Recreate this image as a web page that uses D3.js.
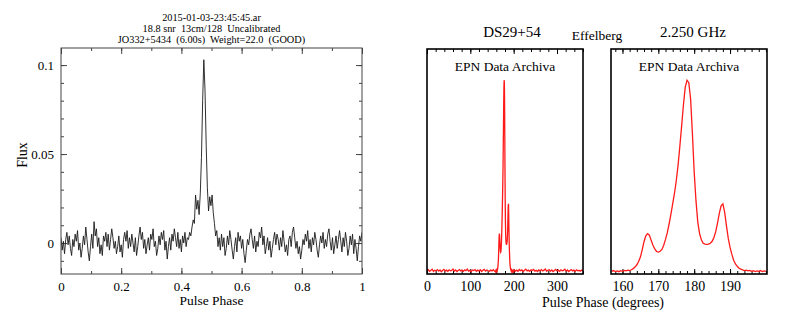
<!DOCTYPE html>
<html>
<head>
<meta charset="utf-8">
<script src="https://cdn.jsdelivr.net/npm/d3@7"></script>
<style>
  body { margin: 0; background: #fff; }
  text { font-family: "Liberation Serif", "Times New Roman", serif; fill: #000; }
</style>
</head>
<body>
<div id="chart-area"></div>
<script>
/*
*    pulse profile plots
*/
var width = 793;
var height = 318;

// ---- data ----
var titleLines = ["2015-01-03-23:45:45.ar", "18.8 snr  13cm/128  Uncalibrated", "JO332+5434  (6.00s)  Weight=22.0  (GOOD)"];

// left panel: flux per phase bin (256 bins across 0..1)
var fluxNoiseA = [
  0.003,-0.004,0.001,-0.006,0.002,0.006,-0.001,0.004,-0.003,-0.007,
  0.002,-0.002,0.005,0.001,0.007,-0.004,0.000,-0.008,-0.003,0.004,
  -0.001,0.009,0.002,-0.005,-0.010,-0.002,0.005,-0.003,0.012,0.004,
  0.008,-0.002,0.003,-0.006,-0.001,-0.007,0.004,0.001,0.006,-0.002,
  0.005,-0.004,0.002,0.008,0.003,-0.003,0.001,-0.006,-0.002,0.004,
  -0.005,-0.001,-0.008,0.002,0.006,0.001,0.007,-0.003,0.003,-0.002,
  0.005,0.000,-0.005,0.003,-0.007,-0.002,0.004,0.009,0.002,0.006,
  -0.003,0.002,-0.006,-0.001,0.003,-0.004,0.005,0.002,0.008,-0.002,
  0.001,-0.007,-0.003,0.004,-0.001,0.006,0.002,0.007,-0.004,0.001,
  -0.009,-0.002,0.003,-0.004,0.005,0.001,0.008,0.003,-0.002,0.006,
  -0.003,0.002,-0.005,0.004,0.000,0.006,-0.002,0.003
];
var fluxPulse = [
  0.002,0.006,0.004,0.009,0.013,0.011,0.027,0.019,0.024,0.016,
  0.028,0.048,0.080,0.103,0.086,0.055,0.031,0.018,0.026,0.021,
  0.027,0.017,0.011,0.004,0.007,-0.002,0.003,-0.004
];
var fluxNoiseB = [
  0.005,-0.002,0.003,-0.007,-0.003,0.004,-0.001,0.007,0.002,-0.004,
  -0.009,-0.002,0.003,-0.005,0.006,0.001,0.004,-0.003,0.002,-0.006,
  -0.011,-0.004,0.002,-0.001,0.005,0.008,0.002,-0.003,0.004,-0.005,
  0.001,-0.002,0.006,0.003,0.009,-0.001,0.004,-0.006,-0.002,0.003,
  -0.004,0.001,-0.008,-0.003,0.002,0.006,-0.001,0.005,0.002,-0.004,
  0.003,-0.002,0.007,0.001,-0.005,-0.001,-0.007,0.002,0.004,-0.002,
  0.006,0.009,0.003,-0.003,0.001,-0.006,-0.002,-0.009,-0.004,0.002,
  -0.001,0.005,0.001,0.007,-0.003,0.002,-0.005,0.003,-0.001,0.006,
  0.002,-0.004,-0.008,-0.001,0.004,0.000,0.006,-0.003,0.002,-0.002,
  0.005,0.008,0.001,-0.004,0.003,-0.006,-0.001,0.004,-0.003,0.002,
  0.007,0.001,-0.005,0.003,-0.002,0.006,0.001,-0.007,-0.003,0.004,
  -0.001,0.005,-0.006,0.002,-0.003,-0.010,-0.002,0.004,0.001,0.006
];

// right panels: EPN profile (normalised), 0.5 deg steps from 157 to 200 deg
var profStart = 157, profStep = 0.5;
var profile = [
  0.004,0.008,0.003,0.006,0.002,0.007,0.004,0.009,0.006,0.010,
  0.008,0.012,0.018,0.026,0.038,0.055,0.078,0.115,0.158,0.188,
  0.200,0.192,0.165,0.140,0.120,0.107,0.104,0.108,0.118,0.140,
  0.170,0.205,0.250,0.300,0.355,0.410,0.475,0.555,0.655,0.760,
  0.870,0.960,0.998,0.985,0.900,0.720,0.520,0.370,0.260,0.200,
  0.168,0.150,0.145,0.144,0.145,0.150,0.160,0.180,0.210,0.255,
  0.305,0.345,0.355,0.310,0.240,0.175,0.128,0.092,0.062,0.042,
  0.030,0.020,0.015,0.011,0.008,0.010,0.006,0.009,0.004,0.007,
  0.003,0.006,0.004,0.008,0.003,0.006,0.004
];
// off-pulse baseline, 3 deg steps: 0..156 and 201..360
var baseLeftStart = 0, baseRightStart = 201, baseStep = 3;
var baseLeft = [
  0.006,0.012,0.004,0.009,0.015,0.003,0.010,0.007,0.013,0.005,
  0.011,0.002,0.008,0.014,0.006,0.010,0.004,0.012,0.007,0.009,
  0.016,0.005,0.011,0.003,0.008,0.013,0.006,0.010,0.004,0.012,
  0.007,0.015,0.005,0.009,0.002,0.011,0.008,0.013,0.004,0.010,
  0.006,0.012,0.003,0.009,0.014,0.005,0.011,0.007,0.004,0.010,
  0.006,0.012,0.005
];
var baseRight = [
  0.012,0.005,0.010,0.004,0.013,0.007,0.011,0.003,0.009,0.015,
  0.006,0.010,0.004,0.012,0.008,0.014,0.005,0.009,0.003,0.011,
  0.007,0.013,0.006,0.010,0.016,0.004,0.009,0.012,0.005,0.011,
  0.003,0.008,0.014,0.006,0.010,0.004,0.012,0.007,0.009,0.015,
  0.005,0.011,0.003,0.008,0.013,0.006,0.010,0.004,0.012,0.007,
  0.009,0.005,0.011,0.006
];

var leftTicksX = [0, 0.2, 0.4, 0.6, 0.8, 1];
var leftTicksY = [0, 0.05, 0.1];
var p1Ticks = [0, 100, 200, 300];
var p2Ticks = [160, 170, 180, 190];

// ---- build series ----
var flux = fluxNoiseA.concat(fluxPulse, fluxNoiseB);
var leftData = flux.map((v, i) => ({x: i / (flux.length - 1), y: v}));

var profData = profile.map((v, i) => ({x: profStart + i * profStep, y: v}));
var fullData = baseLeft.map((v, i) => ({x: baseLeftStart + i * baseStep, y: v}))
    .concat(profData)
    .concat(baseRight.map((v, i) => ({x: baseRightStart + i * baseStep, y: v})));

var svg = d3.select("#chart-area").append("svg")
    .attr("width", width)
    .attr("height", height);

var defs = svg.append("defs");

function panel(box, xDom, yDom, id) {
    var g = svg.append("g").attr("transform", "translate(" + box.x + "," + box.y + ")");
    var x = d3.scaleLinear().domain(xDom).range([0, box.w]);
    var y = d3.scaleLinear().domain(yDom).range([box.h, 0]);
    defs.append("clipPath").attr("id", id)
        .append("rect").attr("width", box.w).attr("height", box.h);
    return {g: g, x: x, y: y, box: box};
}

function ticks(p, axisFn, scale, values, size, translate, col) {
    p.g.append("g")
        .attr("transform", translate)
        .call(axisFn(scale).tickValues(values).tickSizeInner(-size).tickSizeOuter(0).tickFormat(""))
        .call(a => a.select(".domain").remove())
        .selectAll("line").attr("stroke", col);
}

// ---------- left panel ----------
var L = panel({x: 61, y: 48, w: 301, h: 226}, [0, 1], [-0.0174, 0.1096], "clipL");

var minorX = d3.range(0, 1.0001, 0.1);
var minorY = d3.range(-0.01, 0.1001, 0.01);
ticks(L, d3.axisBottom, L.x, minorX, 3, "translate(0," + L.box.h + ")", "#444");
ticks(L, d3.axisBottom, L.x, leftTicksX, 6, "translate(0," + L.box.h + ")", "#444");
ticks(L, d3.axisTop, L.x, minorX, 3, "translate(0,0)", "#444");
ticks(L, d3.axisTop, L.x, leftTicksX, 6, "translate(0,0)", "#444");
ticks(L, d3.axisLeft, L.y, minorY, 3, "translate(0,0)", "#444");
ticks(L, d3.axisLeft, L.y, leftTicksY, 6, "translate(0,0)", "#444");
ticks(L, d3.axisRight, L.y, minorY, 3, "translate(" + L.box.w + ",0)", "#444");
ticks(L, d3.axisRight, L.y, leftTicksY, 6, "translate(" + L.box.w + ",0)", "#444");

L.g.append("path")
    .datum(leftData)
    .attr("clip-path", "url(#clipL)")
    .attr("fill", "none")
    .attr("stroke", "#1a1a1a")
    .attr("stroke-width", 0.9)
    .attr("d", d3.line().x(d => L.x(d.x)).y(d => L.y(d.y)));

L.g.append("rect")
    .attr("width", L.box.w).attr("height", L.box.h)
    .attr("fill", "none").attr("stroke", "#444").attr("stroke-width", 1);

L.g.append("g")
    .attr("transform", "translate(0," + L.box.h + ")")
    .call(d3.axisBottom(L.x).tickValues(leftTicksX).tickSize(0).tickPadding(8)
        .tickFormat(d => d === 0 || d === 1 ? d3.format("d")(d) : d3.format(".1f")(d)))
    .call(a => a.select(".domain").remove())
    .selectAll("text").attr("font-size", "13px").attr("font-family", "Liberation Serif");

L.g.append("g")
    .call(d3.axisLeft(L.y).tickValues(leftTicksY).tickSize(0).tickPadding(7)
        .tickFormat(d => d === 0 ? "0" : String(d)))
    .call(a => a.select(".domain").remove())
    .selectAll("text").attr("font-size", "13px").attr("font-family", "Liberation Serif");

svg.append("text")
    .attr("x", L.box.x + L.box.w / 2)
    .attr("y", 305)
    .attr("text-anchor", "middle")
    .attr("font-size", "13.5px")
    .text("Pulse Phase");

svg.append("text")
    .attr("transform", "translate(27,155) rotate(-90)")
    .attr("text-anchor", "middle")
    .attr("font-size", "14px")
    .text("Flux");

svg.selectAll(".title-line")
    .data(titleLines)
    .enter().append("text")
    .attr("class", "title-line")
    .attr("x", L.box.x + L.box.w / 2)
    .attr("y", (d, i) => 20.5 + i * 11.3)
    .attr("text-anchor", "middle")
    .attr("font-size", "10.3px")
    .style("white-space", "pre")
    .text(d => d);

// ---------- right panels ----------
var yDomR = [-0.01, 1.16];
var P1 = panel({x: 427, y: 49, w: 156, h: 225}, [0, 360], yDomR, "clipP1");
var P2 = panel({x: 611, y: 49, w: 156, h: 225}, [156.8, 200.3], yDomR, "clipP2");

[[P1, d3.range(0, 361, 20), p1Ticks, fullData, "clipP1"], [P2, d3.range(158, 201, 2), p2Ticks, profData, "clipP2"]].forEach((item) => {
    var p = item[0];
    ticks(p, d3.axisBottom, p.x, item[1], 3, "translate(0," + p.box.h + ")", "#000");
    ticks(p, d3.axisBottom, p.x, item[2], 5, "translate(0," + p.box.h + ")", "#000");
    ticks(p, d3.axisTop, p.x, item[1], 3, "translate(0,0)", "#000");
    ticks(p, d3.axisTop, p.x, item[2], 5, "translate(0,0)", "#000");

    p.g.append("path")
        .datum(item[3])
        .attr("clip-path", "url(#" + item[4] + ")")
        .attr("fill", "none")
        .attr("stroke", "#ff1a1a")
        .attr("stroke-width", 1.3)
        .attr("d", d3.line().x(d => p.x(d.x)).y(d => p.y(d.y)));

    p.g.append("rect")
        .attr("width", p.box.w).attr("height", p.box.h)
        .attr("fill", "none").attr("stroke", "#000").attr("stroke-width", 1.6);

    p.g.append("g")
        .attr("transform", "translate(0," + p.box.h + ")")
        .call(d3.axisBottom(p.x).tickValues(item[2]).tickSize(0).tickPadding(7).tickFormat(d3.format("d")))
        .call(a => a.select(".domain").remove())
        .selectAll("text").attr("font-size", "14px").attr("font-family", "Liberation Serif");

    p.g.append("text")
        .attr("x", p.box.w / 2)
        .attr("y", 22)
        .attr("text-anchor", "middle")
        .attr("font-size", "13.5px")
        .text("EPN Data Archiva");
});

svg.append("text")
    .attr("x", 512).attr("y", 37)
    .attr("text-anchor", "middle")
    .attr("font-size", "15px")
    .text("DS29+54");

svg.append("text")
    .attr("x", 597).attr("y", 40)
    .attr("text-anchor", "middle")
    .attr("font-size", "13.5px")
    .text("Effelberg");

svg.append("text")
    .attr("x", 693).attr("y", 37)
    .attr("text-anchor", "middle")
    .attr("font-size", "15px")
    .text("2.250 GHz");

svg.append("text")
    .attr("x", 603).attr("y", 307)
    .attr("text-anchor", "middle")
    .attr("font-size", "14px")
    .text("Pulse Phase (degrees)");
</script>
</body>
</html>
